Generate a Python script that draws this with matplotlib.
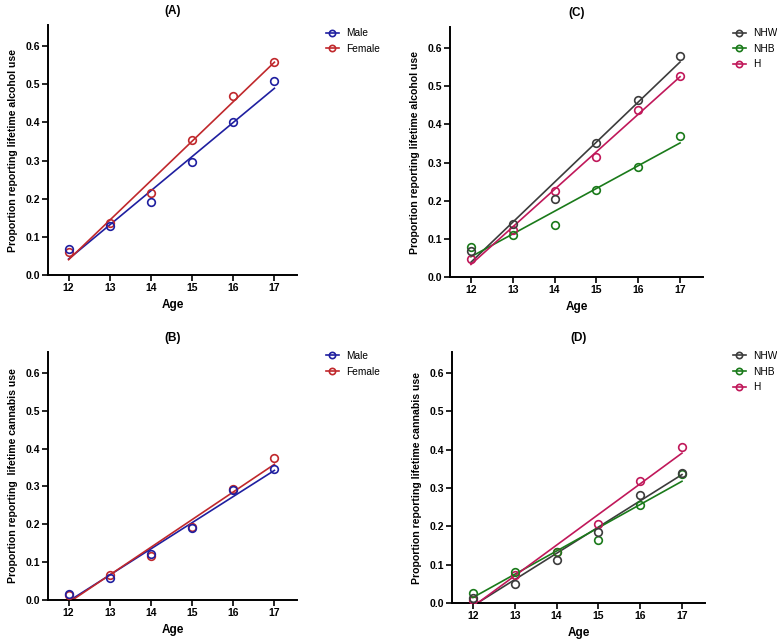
import numpy as np
import matplotlib

matplotlib.use("Agg")
import matplotlib.pyplot as plt

plt.rcParams["font.family"] = ["Liberation Sans", "DejaVu Sans"]

ages = [12, 13, 14, 15, 16, 17]

# (A) alcohol by sex
alc_male = [0.068, 0.128, 0.190, 0.297, 0.401, 0.509]
alc_female = [0.061, 0.137, 0.214, 0.354, 0.469, 0.558]

# (B) cannabis by sex
can_male = [0.015, 0.057, 0.121, 0.190, 0.290, 0.345]
can_female = [0.014, 0.067, 0.115, 0.192, 0.292, 0.375]

# (C) alcohol by race/ethnicity
alc_nhw = [0.068, 0.140, 0.204, 0.351, 0.465, 0.578]
alc_nhb = [0.078, 0.111, 0.136, 0.229, 0.289, 0.370]
alc_h = [0.046, 0.122, 0.225, 0.315, 0.438, 0.527]

# (D) cannabis by race/ethnicity
can_nhw = [0.014, 0.050, 0.112, 0.185, 0.282, 0.340]
can_nhb = [0.025, 0.080, 0.133, 0.164, 0.256, 0.338]
can_h = [0.008, 0.073, 0.133, 0.207, 0.319, 0.406]

BLUE = "#1f1fa0"
RED = "#c0282c"
GREY = "#3c3c3c"
GREEN = "#1a7a1a"
PINK = "#c0185a"


def draw_panel(ax, series, title, ylabel):
    n = len(series)
    for i, (label, values, color) in enumerate(series):
        x = np.array(ages, dtype=float)
        y = np.array(values)
        slope, icpt = np.polyfit(x, y, 1)
        ax.plot([x[0], x[-1]], [icpt + slope * x[0], icpt + slope * x[-1]],
                color=color, lw=1.2, zorder=2)
        # first series sits on top, as in the original
        ax.plot(x, y, "o", mfc="none", mec=color, mew=1.2, ms=5.5,
                zorder=3 + (n - i) * 0.1)
        ax.plot([], [], "-o", color=color, mfc="none", mew=1.2, ms=4.5,
                lw=1.2, label=label)
    ax.set_xlim(11.5, 17.55)
    ax.set_ylim(0, 0.655)
    ax.set_xticks(ages)
    ax.set_yticks([0.0, 0.1, 0.2, 0.3, 0.4, 0.5, 0.6])
    ax.set_yticklabels(["0.0", "0.1", "0.2", "0.3", "0.4", "0.5", "0.6"])
    for s in ["top", "right"]:
        ax.spines[s].set_visible(False)
    for s in ["left", "bottom"]:
        ax.spines[s].set_linewidth(1.4)
    ax.tick_params(direction="out", length=4, width=1.2, labelsize=7.5, pad=2)
    for t in ax.get_xticklabels() + ax.get_yticklabels():
        t.set_fontweight("bold")
    ax.set_xlabel("Age", fontsize=8.5, fontweight="bold", labelpad=4)
    ax.set_ylabel(ylabel, fontsize=7.6, fontweight="bold", labelpad=5)
    ax.set_title(title, fontsize=8.5, fontweight="bold", pad=8)


fig = plt.figure(figsize=(7.77, 6.39), dpi=100)

axA = fig.add_axes([0.0618, 0.5696, 0.3205, 0.3913])
axC = fig.add_axes([0.5792, 0.5665, 0.3256, 0.3912])
axB = fig.add_axes([0.0618, 0.0610, 0.3205, 0.3881])
axD = fig.add_axes([0.5817, 0.0563, 0.3256, 0.3928])

draw_panel(axA, [("Male", alc_male, BLUE), ("Female", alc_female, RED)],
           "(A)", "Proportion reporting lifetime alcohol use")
draw_panel(axB, [("Male", can_male, BLUE), ("Female", can_female, RED)],
           "(B)", "Proportion reporting  lifetime cannabis use")
draw_panel(axC, [("NHW", alc_nhw, GREY), ("NHB", alc_nhb, GREEN), ("H", alc_h, PINK)],
           "(C)", "Proportion reporting lifetime alcohol use")
draw_panel(axD, [("NHW", can_nhw, GREY), ("NHB", can_nhb, GREEN), ("H", can_h, PINK)],
           "(D)", "Proportion reporting lifetime cannabis use")

legend_pos = {axA: (0.414, 0.962), axB: (0.414, 0.457),
              axC: (0.938, 0.962), axD: (0.938, 0.457)}
for ax, (lx, ly) in legend_pos.items():
    ax.legend(loc="upper left", bbox_to_anchor=(lx, ly),
              bbox_transform=fig.transFigure, frameon=False, fontsize=7.3,
              handlelength=1.3, handletextpad=0.7, labelspacing=0.55,
              borderaxespad=0)

fig.savefig("out.png", dpi=100)
